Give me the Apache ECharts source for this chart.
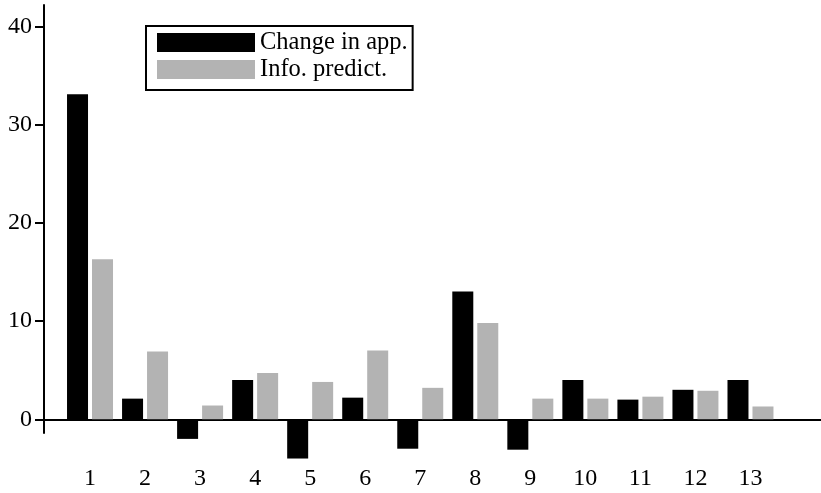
<!DOCTYPE html>
<html>
<head>
<meta charset="utf-8">
<script src="https://cdn.jsdelivr.net/npm/echarts@6/dist/echarts.min.js"></script>
<style>html,body{margin:0;padding:0;background:#fff;}#c{width:821px;height:493px;}</style>
</head>
<body>
<div id="c"></div>
<script>
var categories = ['1','2','3','4','5','6','7','8','9','10','11','12','13'];
var changeInApp = [33.1, 2.1, -2.0, 4.0, -4.0, 2.2, -3.0, 13.0, -3.1, 4.0, 2.0, 3.0, 4.0];
var infoPredict = [16.3, 6.9, 1.4, 4.7, 3.8, 7.0, 3.2, 9.8, 2.1, 2.1, 2.3, 2.9, 1.3];
var yTicks = [0, 10, 20, 30, 40];
var seriesNames = ['Change in app.', 'Info. predict.'];

var FONT = 'Liberation Serif';
var yMin = -1.4, yMax = 42.19;
var chart = echarts.init(document.getElementById('c'), null, {renderer:'canvas'});
var option = {
  animation: false,
  backgroundColor: '#fff',
  grid: [
    {left: 44, right: 0, top: 5, height: 428},
    {left: 62.5, width: 715.5, top: 5, height: 428}
  ],
  legend: {
    data: seriesNames,
    orient: 'vertical',
    left: 146, top: 26,
    padding: [4, 5, 8, 11],
    itemWidth: 98, itemHeight: 19, itemGap: 2,
    borderColor: '#000', borderWidth: 2,
    icon: 'rect',
    textStyle: {fontFamily: FONT, fontSize: 24.5, color: '#000'}
  },
  xAxis: [
    {gridIndex: 0, type: 'category', data: [''],
     axisLine: {show: true, onZero: true, lineStyle: {color: '#000', width: 2}},
     axisTick: {show: false}, axisLabel: {show: false}, splitLine: {show: false}},
    {gridIndex: 1, type: 'category', data: categories, position: 'bottom',
     axisLine: {show: false, onZero: false}, axisTick: {show: false},
     axisLabel: {margin: 34, fontFamily: FONT, fontSize: 24, color: '#000'},
     splitLine: {show: false}}
  ],
  yAxis: [
    {gridIndex: 0, type: 'value', min: yMin, max: yMax,
     axisLine: {show: true, lineStyle: {color: '#000', width: 2}},
     axisTick: {show: true, length: 9, lineStyle: {color: '#000', width: 2}, customValues: yTicks},
     axisLabel: {margin: 12, fontFamily: FONT, fontSize: 24, color: '#000', customValues: yTicks},
     splitLine: {show: false}},
    {gridIndex: 1, type: 'value', min: yMin, max: yMax, show: false, splitLine: {show: false}}
  ],
  series: [
    {name: seriesNames[0], type: 'bar', xAxisIndex: 1, yAxisIndex: 1, data: changeInApp,
     barWidth: 21, barGap: '19%', clip: false, itemStyle: {color: '#000'}},
    {name: seriesNames[1], type: 'bar', xAxisIndex: 1, yAxisIndex: 1, data: infoPredict,
     barWidth: 21, barGap: '19%', clip: false, itemStyle: {color: '#b3b3b3'}}
  ]
};
chart.setOption(option);
</script>
</body>
</html>
